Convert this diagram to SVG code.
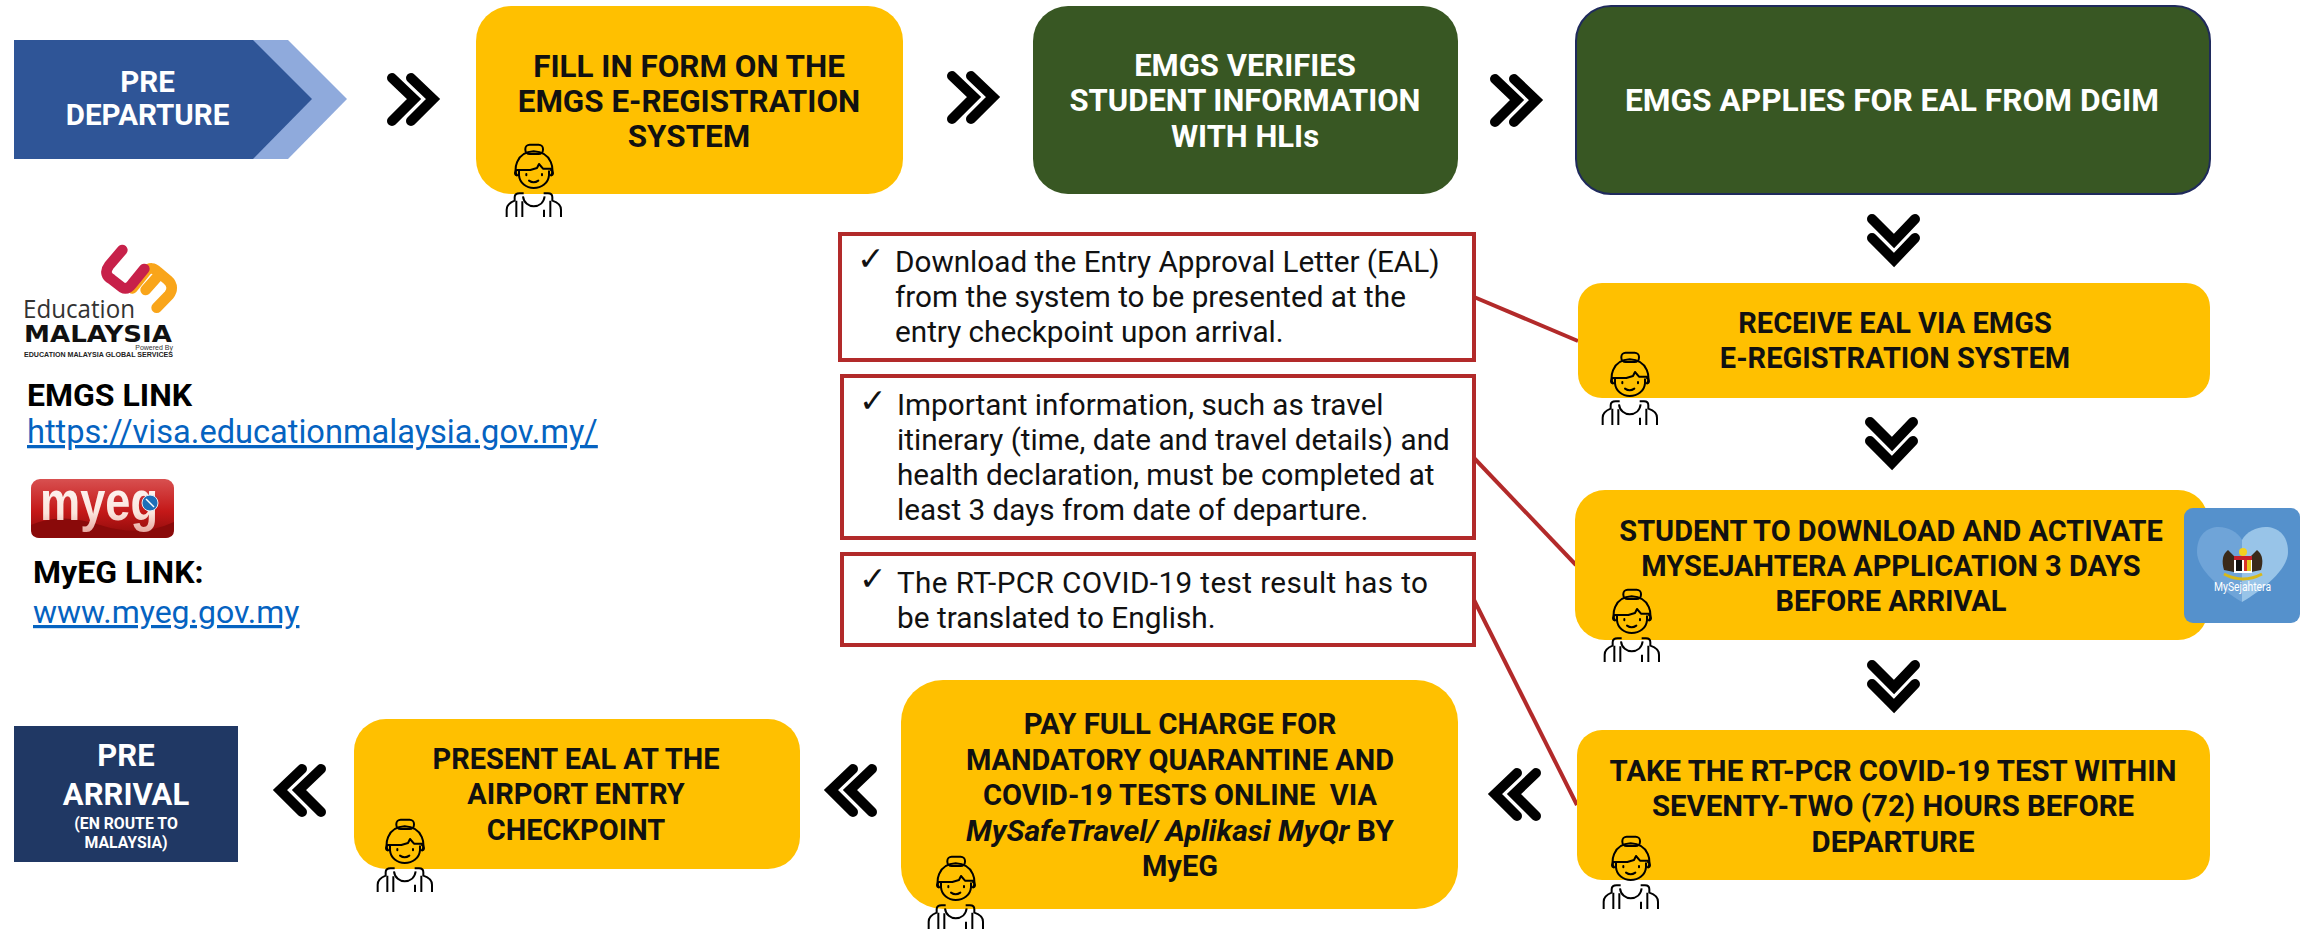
<svg xmlns="http://www.w3.org/2000/svg" xmlns:xlink="http://www.w3.org/1999/xlink" width="2313" height="929" viewBox="0 0 2313 929">
<style>
text{font-family:Roboto,"Liberation Sans",sans-serif}
.y{fill:#FFC000}.g{fill:#385723}
.t{font-size:29px;font-weight:700;fill:#111;text-anchor:middle}
.w{font-size:31px;font-weight:700;fill:#fff;text-anchor:middle}
.n{font-size:29.7px;fill:#111}
.c{fill:#fff;stroke:#B22A2A;stroke-width:4}
.ck{font-family:"DejaVu Sans",sans-serif;font-size:33px;fill:#111}
.l{font-size:32.5px;fill:#0563C1;text-decoration:underline}
.b{font-size:32px;font-weight:700;fill:#000}
.ln{stroke:#B22A2A;stroke-width:4;fill:none}
.p{fill:none;stroke:#000;stroke-width:6;stroke-linecap:round;stroke-linejoin:round}
.pb{fill:none;stroke:#000;stroke-width:6;stroke-linejoin:round}
</style>
<defs>
<g id="chev" fill="none" stroke="#000" stroke-width="10" stroke-linecap="round" stroke-linejoin="miter" stroke-miterlimit="6">
<path d="M5 5 L27 26 L5 48"/><path d="M24 5 L46 26 L24 48"/>
</g>
<g id="person" transform="scale(.3333) translate(-39 -18)">
<rect class="p" x="97" y="20" width="53" height="28" rx="13"/>
<path class="p" d="M72 112 C62 100 66 42 122 40 C180 42 184 100 174 112"/>
<path class="p" d="M78 100 V112 C80 135 100 150 122 150 C146 150 166 135 168 112 V100"/>
<path class="p" d="M72 96 H112 L132 90 L138 78 L150 92 H174"/>
<path class="p" d="M72 96 C64 100 64 110 72 112 M174 96 C182 100 182 110 174 112"/>
<path class="p" d="M100 108 V112 M147 108 V112"/>
<path class="p" d="M108 128 Q122 138 136 128"/>
<path class="pb" d="M41 237 V215 C41 200 55 192 65 188 V178 Q65 166 80 166 H92 M204 237 V215 C204 200 190 192 178 188 V178 Q178 166 165 166 H152"/>
<path class="pb" d="M90 175 C92 195 108 205 122 205 C138 205 152 195 155 175"/>
<path class="pb" d="M70 188 V237 M88 190 V237 M153 215 V237 M172 188 V237"/>
</g>
<linearGradient id="mg" x1="0" y1="0" x2="0" y2="1"><stop offset="0" stop-color="#D85050"/><stop offset=".55" stop-color="#C41818"/><stop offset="1" stop-color="#8A0A0A"/></linearGradient>
<linearGradient id="mt" x1="0" y1="0" x2="0" y2="1"><stop offset="0" stop-color="#fff"/><stop offset=".7" stop-color="#FBE4DC"/><stop offset="1" stop-color="#E8A8A0"/></linearGradient>
</defs>

<g id="connectors">
<path class="ln" d="M1474 297 L1578 341"/>
<path class="ln" d="M1474 458 L1576 565"/>
<path class="ln" d="M1474 600 L1577 805"/>
<use href="#chev" transform="translate(387 73)"/>
<use href="#chev" transform="translate(947 71)"/>
<use href="#chev" transform="translate(1490 74)"/>
<use href="#chev" transform="translate(1920 214) rotate(90)"/>
<use href="#chev" transform="translate(1918 417) rotate(90)"/>
<use href="#chev" transform="translate(1920 660) rotate(90)"/>
<use href="#chev" transform="translate(1541 768) scale(-1 1)"/>
<use href="#chev" transform="translate(877 764) scale(-1 1)"/>
<use href="#chev" transform="translate(326 764) scale(-1 1)"/>
</g>

<g id="pre-departure">
<path fill="#8FAADC" d="M253 40 H288 L347 99 288 159 H253 Z"/>
<path fill="#2F5597" d="M14 40 H253 L312 99 253 159 H14 Z"/>
<text class="w" x="147.5" y="92" style="font-size:29.5px">PRE</text>
<text class="w" x="147.5" y="125" style="font-size:29.5px">DEPARTURE</text>
</g>

<g id="form">
<rect class="y" x="476" y="6" width="427" height="188" rx="35"/>
<text class="t" x="689" y="77" style="font-size:31.4px">FILL IN FORM ON THE</text>
<text class="t" x="689" y="112" style="font-size:31.4px">EMGS E-REGISTRATION</text>
<text class="t" x="689" y="147" style="font-size:31.4px">SYSTEM</text>
<use href="#person" transform="translate(506 144)"/>
</g>

<g id="verify">
<rect class="g" x="1033" y="6" width="425" height="188" rx="35"/>
<text class="w" x="1245" y="76">EMGS VERIFIES</text>
<text class="w" x="1245" y="111">STUDENT INFORMATION</text>
<text class="w" x="1245" y="147">WITH HLIs</text>
</g>

<g id="apply">
<rect class="g" x="1576" y="6" width="634" height="188" rx="35" stroke="#1F2A5C" stroke-width="2"/>
<text class="w" x="1892" y="111" style="font-size:31.7px">EMGS APPLIES FOR EAL FROM DGIM</text>
</g>

<g id="receive">
<rect class="y" x="1578" y="283" width="632" height="115" rx="24"/>
<text class="t" x="1895" y="333">RECEIVE EAL VIA EMGS</text>
<text class="t" x="1895" y="368">E-REGISTRATION SYSTEM</text>
<use href="#person" transform="translate(1602 352)"/>
</g>

<g id="student">
<rect class="y" x="1575" y="490" width="633" height="150" rx="30"/>
<text class="t" x="1891" y="541">STUDENT TO DOWNLOAD AND ACTIVATE</text>
<text class="t" x="1891" y="576">MYSEJAHTERA APPLICATION 3 DAYS</text>
<text class="t" x="1891" y="611">BEFORE ARRIVAL</text>
<use href="#person" transform="translate(1604 589)"/>
</g>

<g id="mysejahtera">
<rect x="2184" y="508" width="116" height="115" rx="9" fill="#5591CC"/>
<path fill="#6FA4D8" d="M2242 540 C2232 522 2197 520 2197 552 C2197 570 2222 590 2242 602 Z"/>
<path fill="#98C4E8" d="M2242 540 C2252 522 2288 520 2288 552 C2288 570 2262 590 2242 602 Z"/>
<path fill="#3A2A1A" d="M2224 570 Q2220 556 2228 550 L2234 556 V572 Z M2261 570 Q2265 556 2257 550 L2251 556 V572 Z"/>
<rect x="2234" y="556" width="18" height="17" fill="#fff"/>
<rect x="2234" y="556" width="18" height="4" fill="#C8202A"/>
<rect x="2236" y="560" width="6" height="11" fill="#111"/>
<rect x="2244" y="560" width="3" height="11" fill="#D8342A"/><rect x="2247" y="560" width="4" height="11" fill="#E8C820"/>
<circle cx="2243" cy="552" r="4" fill="#F2D020"/>
<path fill="none" stroke="#D8B818" stroke-width="3" d="M2224 574 Q2243 584 2262 574"/>
<text x="2214" y="591" font-size="13" fill="#fff" textLength="57" lengthAdjust="spacingAndGlyphs">MySejahtera</text>
</g>

<g id="note-eal">
<rect class="c" x="840" y="234" width="634" height="126"/>
<text class="ck" x="857" y="270">✓</text>
<text class="n" x="895" y="272">Download the Entry Approval Letter (EAL)</text>
<text class="n" x="895" y="307">from the system to be presented at the</text>
<text class="n" x="895" y="342">entry checkpoint upon arrival.</text>
</g>
<g id="note-info">
<rect class="c" x="842" y="376" width="632" height="162"/>
<text class="ck" x="859" y="412">✓</text>
<text class="n" x="897" y="415">Important information, such as travel</text>
<text class="n" x="897" y="450">itinerary (time, date and travel details) and</text>
<text class="n" x="897" y="485">health declaration, must be completed at</text>
<text class="n" x="897" y="520">least 3 days from date of departure.</text>
</g>
<g id="note-pcr">
<rect class="c" x="842" y="554" width="632" height="91"/>
<text class="ck" x="859" y="590">✓</text>
<text class="n" x="897" y="593" textLength="531">The RT-PCR COVID-19 test result has to</text>
<text class="n" x="897" y="628" style="font-size:29.8px">be translated to English.</text>
</g>

<g id="take">
<rect class="y" x="1577" y="730" width="633" height="150" rx="25"/>
<text class="t" x="1893" y="781" style="font-size:29.4px">TAKE THE RT-PCR COVID-19 TEST WITHIN</text>
<text class="t" x="1893" y="816" style="font-size:29.4px">SEVENTY-TWO (72) HOURS BEFORE</text>
<text class="t" x="1893" y="852" style="font-size:29.4px">DEPARTURE</text>
<use href="#person" transform="translate(1603 836)"/>
</g>

<g id="pay">
<rect class="y" x="901" y="680" width="557" height="229" rx="42"/>
<text class="t" x="1180" y="734" style="font-size:29.4px">PAY FULL CHARGE FOR</text>
<text class="t" x="1180" y="770">MANDATORY QUARANTINE AND</text>
<text class="t" x="1180" y="805" xml:space="preserve">COVID-19 TESTS ONLINE  VIA</text>
<text class="t" x="1180" y="841" style="font-size:30.2px"><tspan font-style="italic">MySafeTravel/ Aplikasi MyQr</tspan> BY</text>
<text class="t" x="1180" y="876">MyEG</text>
<use href="#person" transform="translate(928 856)"/>
</g>

<g id="present">
<rect class="y" x="354" y="719" width="446" height="150" rx="32"/>
<text class="t" x="576" y="769">PRESENT EAL AT THE</text>
<text class="t" x="576" y="804">AIRPORT ENTRY</text>
<text class="t" x="576" y="840">CHECKPOINT</text>
<use href="#person" transform="translate(377 819)"/>
</g>

<g id="pre-arrival">
<rect x="14" y="726" width="224" height="136" fill="#203864"/>
<text class="w" x="126" y="766">PRE</text>
<text class="w" x="126" y="805">ARRIVAL</text>
<text class="w" x="126" y="829" style="font-size:15.8px">(EN ROUTE TO</text>
<text class="w" x="126" y="848" style="font-size:15.8px">MALAYSIA)</text>
</g>

<g id="logo-education-malaysia" transform="translate(15 235)">
<g transform="scale(.3333)" fill="none" stroke-width="32" stroke-linecap="round" stroke-linejoin="round">
<path stroke="#F9A51A" d="M352 160 L392 110 C405 95 418 100 426 108 L458 135 C475 150 472 168 462 180 L425 218"/>
<path stroke="#F9A51A" d="M392 165 L430 122"/>
<path stroke="#C7214A" d="M322 45 L282 92 C268 110 275 125 290 133 L322 158 C335 165 345 155 352 146 L388 102"/>
</g>
<text x="8" y="83" font-size="26" style="font-family:'Open Sans',sans-serif;font-weight:400" fill="#333" textLength="112" lengthAdjust="spacingAndGlyphs">Education</text>
<text x="9" y="107" font-size="23" style="font-family:'DejaVu Sans',sans-serif;font-weight:700" fill="#111" textLength="148" lengthAdjust="spacingAndGlyphs">MALAYSIA</text>
<text x="158" y="115" font-size="7" text-anchor="end" style="font-family:'Liberation Sans',sans-serif" fill="#333">Powered By</text>
<text x="9" y="122" font-size="8" style="font-family:'Liberation Sans',sans-serif;font-weight:700" fill="#222" textLength="149" lengthAdjust="spacingAndGlyphs">EDUCATION MALAYSIA GLOBAL SERVICES</text>
</g>

<g id="emgs-link">
<text class="b" x="27" y="406">EMGS LINK</text>
<text class="l" x="27" y="443" style="font-size:32.6px">https://visa.educationmalaysia.gov.my/</text>
</g>

<g id="logo-myeg">
<rect x="31" y="479" width="143" height="59" rx="9" fill="url(#mg)"/>
<path fill="#8A0A0A" d="M31 525 Q60 512 100 525 T174 522 V530 Q174 538 165 538 H40 Q31 538 31 530 Z"/>
<text x="40" y="520" font-size="56" style="font-family:'Liberation Sans',sans-serif;font-weight:700" fill="url(#mt)" textLength="118" lengthAdjust="spacingAndGlyphs">myeg</text>
<circle cx="150" cy="503" r="8" fill="#1E6FB8" stroke="#E6EEF4" stroke-width="1"/>
<path stroke="#fff" stroke-width="1.5" d="M146 499 L154 507"/>
</g>

<g id="myeg-link">
<text class="b" x="33" y="583">MyEG LINK:</text>
<text class="l" x="33" y="623" style="font-size:32px">www.myeg.gov.my</text>
</g>
</svg>
